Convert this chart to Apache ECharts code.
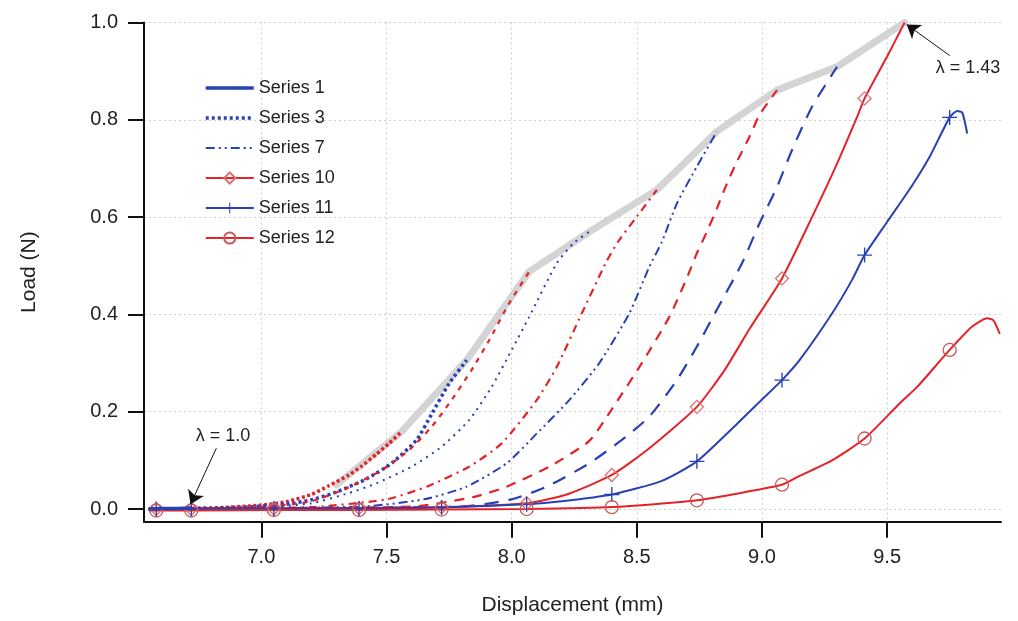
<!DOCTYPE html>
<html><head><meta charset="utf-8">
<script src="https://cdn.jsdelivr.net/npm/echarts@6/dist/echarts.min.js"></script>
<style>html,body{margin:0;padding:0;background:#fff}#c{width:1018px;height:621px}</style>
</head><body><div id="c"></div>
<script>
// ---- data ----
const xTicks = [7.0, 7.5, 8.0, 8.5, 9.0, 9.5];
const yTicks = [0.0, 0.2, 0.4, 0.6, 0.8, 1.0];
const legendNames = ['Series 1', 'Series 3', 'Series 7', 'Series 10', 'Series 11', 'Series 12'];
const markerX = [6.58, 6.72, 7.05, 7.39, 7.72, 8.06, 8.40, 8.74, 9.08, 9.41, 9.75];

const envelope = [[7.3,0.05],[7.56,0.159],[7.82,0.306],[8.07,0.488],[8.32,0.573],[8.58,0.656],[8.82,0.776],[9.06,0.861],[9.30,0.909],[9.57,1.0]];
const s1 = [[6.55,0],[6.6,0.001],[6.66,0.001],[6.72,0.002]];
const s2 = [[6.55,0],[6.8,0.002],[7.0,0.008],[7.1,0.015],[7.2,0.03],[7.27,0.048],[7.35,0.07],[7.4,0.088],[7.46,0.113],[7.51,0.135],[7.56,0.159]];
const s3 = [[6.55,0],[6.9,0.003],[7.1,0.01],[7.2,0.019],[7.3,0.035],[7.42,0.062],[7.52,0.094],[7.62,0.142],[7.68,0.195],[7.75,0.258],[7.82,0.306]];
const s4 = [[6.55,0],[7.0,0.004],[7.2,0.016],[7.35,0.045],[7.48,0.08],[7.59,0.121],[7.68,0.169],[7.76,0.224],[7.84,0.286],[7.91,0.347],[7.99,0.423],[8.07,0.488]];
const s5 = [[6.55,0],[7.0,0.003],[7.2,0.012],[7.35,0.033],[7.46,0.053],[7.60,0.087],[7.72,0.128],[7.83,0.183],[7.92,0.251],[8.00,0.327],[8.07,0.395],[8.18,0.505],[8.25,0.548],[8.32,0.573]];
const s6 = [[6.55,0],[7.2,0.004],[7.5,0.02],[7.66,0.046],[7.83,0.087],[7.96,0.135],[8.10,0.224],[8.18,0.292],[8.28,0.402],[8.38,0.51],[8.43,0.553],[8.50,0.601],[8.58,0.656]];
const s7 = [[6.55,0],[7.4,0.005],[7.65,0.02],[7.82,0.046],[7.98,0.094],[8.10,0.155],[8.23,0.224],[8.35,0.30],[8.47,0.402],[8.55,0.498],[8.60,0.549],[8.66,0.628],[8.74,0.704],[8.82,0.776]];
const s8 = [[6.55,0],[7.6,0.005],[7.85,0.025],[7.98,0.046],[8.15,0.087],[8.31,0.14],[8.40,0.205],[8.52,0.3],[8.63,0.395],[8.70,0.475],[8.74,0.526],[8.78,0.570],[8.82,0.618],[8.86,0.669],[8.90,0.714],[8.95,0.765],[8.99,0.81],[9.06,0.861]];
const s9 = [[6.55,0],[7.8,0.005],[8.0,0.02],[8.14,0.046],[8.31,0.094],[8.44,0.142],[8.55,0.19],[8.66,0.265],[8.74,0.334],[8.82,0.41],[8.92,0.505],[8.99,0.587],[9.06,0.662],[9.12,0.738],[9.20,0.827],[9.30,0.909]];
const s10 = [[6.55,0],[6.58,0],[6.72,0],[7.05,0.001],[7.39,0.002],[7.72,0.004],[8.06,0.012],[8.22,0.03],[8.40,0.07],[8.55,0.125],[8.74,0.21],[8.85,0.285],[8.95,0.37],[9.08,0.474],[9.2,0.60],[9.3,0.71],[9.38,0.806],[9.41,0.844],[9.5,0.93],[9.55,0.98],[9.57,1.0]];
const s11 = [[6.55,0],[6.58,0],[6.72,0],[7.05,0.001],[7.39,0.001],[7.72,0.003],[8.06,0.01],[8.2,0.016],[8.40,0.03],[8.6,0.058],[8.74,0.098],[8.9,0.175],[9.0,0.225],[9.08,0.265],[9.15,0.306],[9.28,0.402],[9.36,0.471],[9.41,0.522],[9.5,0.59],[9.6,0.665],[9.67,0.724],[9.75,0.805],[9.78,0.818],[9.80,0.815],[9.82,0.772]];
const s12 = [[6.55,-0.003],[6.58,-0.003],[6.72,-0.003],[7.05,-0.002],[7.39,-0.002],[7.72,-0.001],[8.06,0],[8.40,0.004],[8.74,0.018],[9.08,0.05],[9.15,0.068],[9.28,0.1],[9.41,0.145],[9.55,0.217],[9.62,0.251],[9.75,0.327],[9.84,0.375],[9.9,0.392],[9.925,0.388],[9.95,0.36]];

const annotationText = [{ text: 'λ = 1.0', at: [6.847, 0.15] }, { text: 'λ = 1.43', at: [9.823, 0.906] }];
const annotationArrows = [[[6.82, 0.125], [6.717, 0.01]], [[9.75, 0.932], [9.578, 0.996]]];

// ---- styling ----
const BLUE = '#2741b3', RED = '#e3232a';
const FONT = 'Liberation Sans, Arial, sans-serif';
const TXT = '#222';
const SMOOTH = 0.2;

function lineSeries(name, data, color, width, dash, z) {
  return {
    name, type: 'line', data, symbol: 'none', smooth: SMOOTH,
    lineStyle: { color, width, type: dash || 'solid' }, itemStyle: { color }, z: z || 3,
    emphasis: { disabled: true }
  };
}
function markedSeries(name, data, color, symbol, size, itemStyle) {
  return {
    name, type: 'line', smooth: SMOOTH,
    data: data.map(p => ({ value: p, symbolSize: markerX.includes(p[0]) ? size : 0 })),
    symbol, symbolSize: size, showSymbol: true, showAllSymbol: true,
    lineStyle: { color, width: 2, type: 'solid' }, itemStyle, z: 4,
    emphasis: { disabled: true }
  };
}
const crossPath = 'path://M-0.09,-1H0.09V-0.09H1V0.09H0.09V1H-0.09V0.09H-1V-0.09H-0.09Z';

const series = [
  { name: 'Envelope', type: 'line', data: envelope, symbol: 'none',
    lineStyle: { color: '#d4d4d4', width: 7, cap: 'round', join: 'round' }, z: 1, emphasis: { disabled: true } },
  lineSeries('Series 2', s2, RED, 3.5, [3, 2.5]),
  lineSeries('Series 3', s3, BLUE, 3.5, [3, 3]),
  lineSeries('Series 4', s4, RED, 2.2, [5, 6]),
  lineSeries('Series 5', s5, BLUE, 2, [2, 5]),
  lineSeries('Series 6', s6, RED, 2.2, [8, 5, 2, 5]),
  lineSeries('Series 7', s7, BLUE, 2, [9, 4, 2, 4, 2, 4]),
  lineSeries('Series 8', s8, RED, 2.2, [10, 8]),
  lineSeries('Series 9', s9, BLUE, 2.2, [14, 10]),
  markedSeries('Series 10', s10, RED, 'diamond', 13, { color: 'rgba(0,0,0,0)', borderColor: '#e07070', borderWidth: 1.3 }),
  markedSeries('Series 11', s11, BLUE, crossPath, 15, { color: BLUE }),
  markedSeries('Series 12', s12, RED, 'circle', 13, { color: 'rgba(0,0,0,0)', borderColor: '#c9585c', borderWidth: 1.3 }),
  Object.assign(lineSeries('Series 1', s1, BLUE, 3.5, 'solid', 5), {
    markLine: {
      silent: true, symbol: ['none', 'arrow'], symbolSize: 13, animation: false,
      lineStyle: { color: '#111', width: 1, type: 'solid' }, itemStyle: { color: '#111' }, label: { show: false },
      data: annotationArrows.map(a => [{ coord: a[0] }, { coord: a[1] }])
    },
    markPoint: {
      silent: true, symbol: 'circle', symbolSize: 0, animation: false,
      itemStyle: { color: 'rgba(0,0,0,0)' },
      label: { show: true, position: 'inside', color: TXT, fontSize: 18, fontFamily: FONT, formatter: p => p.name },
      data: annotationText.map(a => ({ name: a.text, coord: a.at }))
    }
  })
];

const noSymbol = { color: 'rgba(0,0,0,0)', borderWidth: 0, opacity: 0 };
const legendLineWidth = [3.5, 3.5, 2, 2, 2, 2];
const chart = echarts.init(document.getElementById('c'), null, { renderer: 'canvas' });
chart.setOption({
  animation: false,
  backgroundColor: '#fff',
  textStyle: { fontFamily: FONT },
  grid: { left: 144, right: 17, top: 22.5, bottom: 99.3, outerBoundsMode: 'none', containLabel: false },
  legend: {
    data: legendNames.map((n, i) => i < 3
      ? { name: n, itemStyle: noSymbol, lineStyle: { width: legendLineWidth[i] } }
      : { name: n, lineStyle: { width: legendLineWidth[i] } }),
    orient: 'vertical', left: 199, top: 74, itemWidth: 48, itemHeight: 14, itemGap: 12,
    textStyle: { color: TXT, fontSize: 18, fontFamily: FONT },
    selectedMode: false, inactiveColor: '#ccc'
  },
  xAxis: {
    type: 'value', min: 6.531, max: 9.955,
    name: 'Displacement (mm)', nameLocation: 'middle', nameGap: 73,
    nameTextStyle: { color: TXT, fontSize: 21, fontFamily: FONT },
    axisLine: { show: true, onZero: false, lineStyle: { color: '#111', width: 2 } },
    axisTick: { show: true, inside: false, length: 16, lineStyle: { color: '#111', width: 2 }, customValues: xTicks },
    axisLabel: { color: TXT, fontSize: 20, fontFamily: FONT, margin: 26, customValues: xTicks, formatter: v => v.toFixed(1) },
    splitLine: { show: true, lineStyle: { color: '#cfcfcf', width: 1, type: [2, 3] } }
  },
  yAxis: {
    type: 'value', min: -0.026, max: 1.0,
    name: 'Load (N)', nameLocation: 'middle', nameGap: 104,
    nameTextStyle: { color: TXT, fontSize: 21, fontFamily: FONT },
    axisLine: { show: true, onZero: false, lineStyle: { color: '#111', width: 2 } },
    axisTick: { show: true, inside: false, length: 16, lineStyle: { color: '#111', width: 2 }, customValues: yTicks },
    axisLabel: { color: TXT, fontSize: 20, fontFamily: FONT, margin: 26, customValues: yTicks, formatter: v => v.toFixed(1) },
    splitLine: { show: true, lineStyle: { color: '#cfcfcf', width: 1, type: [2, 3] } }
  },
  series
});
</script>
</body></html>
